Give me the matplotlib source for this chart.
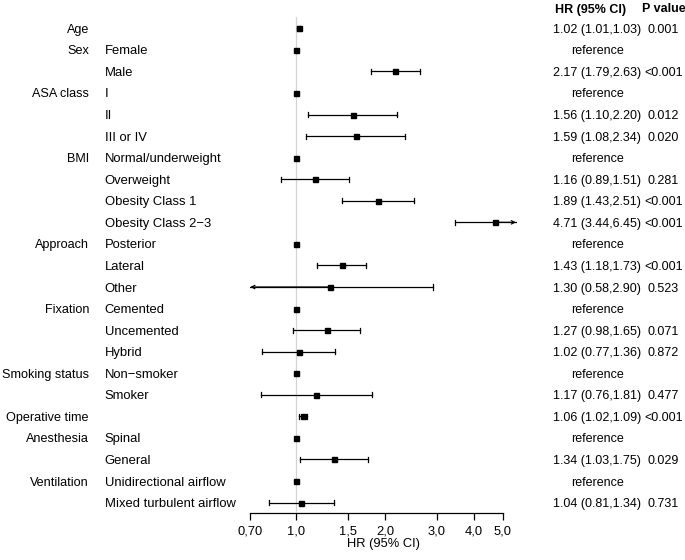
import numpy as np
import matplotlib
matplotlib.use("Agg")
import matplotlib.pyplot as plt
from matplotlib.transforms import blended_transform_factory

plt.rcParams['font.family'] = ['Liberation Sans', 'DejaVu Sans']

variables = ["Age", "Sex", "", "ASA class", "", "", "BMI", "", "", "",
             "Approach", "", "", "Fixation", "", "", "Smoking status", "",
             "Operative time", "Anesthesia", "", "Ventilation", ""]
levels = ["", "Female", "Male", "I", "II", "III or IV", "Normal/underweight",
          "Overweight", "Obesity Class 1", "Obesity Class 2\u22123", "Posterior",
          "Lateral", "Other", "Cemented", "Uncemented", "Hybrid", "Non\u2212smoker",
          "Smoker", "", "Spinal", "General", "Unidirectional airflow",
          "Mixed turbulent airflow"]
hr = [1.02, 1.0, 2.17, 1.0, 1.56, 1.59, 1.0, 1.16, 1.89, 4.71, 1.0, 1.43, 1.30,
      1.0, 1.27, 1.02, 1.0, 1.17, 1.06, 1.0, 1.34, 1.0, 1.04]
lower = [1.01, None, 1.79, None, 1.10, 1.08, None, 0.89, 1.43, 3.44, None, 1.18,
         0.58, None, 0.98, 0.77, None, 0.76, 1.02, None, 1.03, None, 0.81]
upper = [1.03, None, 2.63, None, 2.20, 2.34, None, 1.51, 2.51, 6.45, None, 1.73,
         2.90, None, 1.65, 1.36, None, 1.81, 1.09, None, 1.75, None, 1.34]
pvals = ["0.001", "", "<0.001", "", "0.012", "0.020", "", "0.281", "<0.001",
         "<0.001", "", "<0.001", "0.523", "", "0.071", "0.872", "", "0.477",
         "<0.001", "", "0.029", "", "0.731"]
xticks = [0.7, 1.0, 1.5, 2.0, 3.0, 4.0, 5.0]
xticklabels = ["0,70", "1,0", "1,5", "2,0", "3,0", "4,0", "5,0"]

W, H = 685, 560
fig = plt.figure(figsize=(W / 100, H / 100), dpi=100)

# axes geometry in pixels
xmin, xmax = 0.7, 5.6
ppl = 128.4  # pixels per ln unit
x1px = 296.0
left_px = x1px + ppl * np.log(xmin)
right_px = x1px + ppl * np.log(xmax)
row0, rowh = 28.3, 21.56
top_px, bot_px = 0.0, 512.5
ax = fig.add_axes([left_px / W, 1 - bot_px / H, (right_px - left_px) / W, (bot_px - top_px) / H])
ax.set_xscale('log')
ax.set_xlim(xmin, xmax)
ax.set_ylim((bot_px - row0) / rowh, (top_px - row0) / rowh)

for s in ['top', 'right', 'left']:
    ax.spines[s].set_visible(False)
ax.spines['bottom'].set_bounds(0.7, 5.0)
ax.spines['bottom'].set_linewidth(0.9)
ax.set_yticks([])
ax.set_xticks(xticks)
ax.set_xticklabels(xticklabels, fontsize=9.3)
ax.xaxis.set_minor_locator(matplotlib.ticker.NullLocator())
ax.tick_params(axis='x', length=5, width=0.9, pad=4)
ax.set_xlabel("HR (95% CI)", fontsize=9.3, labelpad=1)

ax.plot([1, 1], [(17 - row0) / rowh, (bot_px - row0) / rowh], color='#d3d3d3', lw=0.9, zorder=0)

clip_hi = 5.55
for i, (h, lo, up) in enumerate(zip(hr, lower, upper)):
    if lo is not None:
        lo_c = max(lo, xmin)
        up_c = min(up, clip_hi)
        ax.plot([lo_c, up_c], [i, i], color='black', lw=0.9, zorder=2)
        if lo >= xmin:
            ax.plot([lo, lo], [i - 0.12, i + 0.12], color='black', lw=0.9)
        else:
            ax.annotate('', xy=(lo_c, i), xytext=(h, i),
                        arrowprops=dict(arrowstyle='->', lw=0.9, color='black', mutation_scale=6, shrinkA=0, shrinkB=0))
        if up <= clip_hi:
            ax.plot([up, up], [i - 0.12, i + 0.12], color='black', lw=0.9)
        else:
            ax.annotate('', xy=(up_c, i), xytext=(h, i),
                        arrowprops=dict(arrowstyle='->', lw=0.9, color='black', mutation_scale=6, shrinkA=0, shrinkB=0))
    ax.plot(h, i, marker='s', ms=3.6, color='black', zorder=3, clip_on=False)

tr = blended_transform_factory(fig.transFigure, ax.transData)
fs_var = 9.1
fs_lev = 9.4
fs2 = 9.0
for i in range(len(hr)):
    if variables[i]:
        fig.text(89 / W, i, variables[i], transform=tr, ha='right', va='center_baseline', fontsize=fs_var)
    if levels[i]:
        fig.text(104.5 / W, i, levels[i], transform=tr, ha='left', va='center_baseline', fontsize=fs_lev)
    if lower[i] is None:
        txt = "reference"
    else:
        txt = f"{hr[i]:.2f} ({lower[i]:.2f},{upper[i]:.2f})"
    fig.text(597 / W, i, txt, transform=tr, ha='center', va='center_baseline', fontsize=fs2)
    if pvals[i]:
        fig.text(663.5 / W, i, pvals[i], transform=tr, ha='center', va='center_baseline', fontsize=fs2)

hy = (8 - row0) / rowh
fig.text(591 / W, hy, "HR (95% CI)", transform=tr, ha='center', va='center_baseline', fontsize=fs2, fontweight='bold')
fig.text(663.5 / W, hy, "P value", transform=tr, ha='center', va='center_baseline', fontsize=fs2, fontweight='bold')

fig.savefig("out.png", dpi=100)
